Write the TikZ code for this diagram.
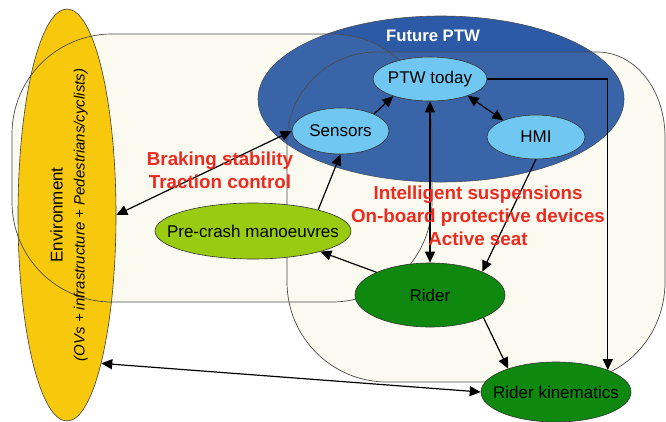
\documentclass[tikz,border=0pt]{standalone}
\usepackage{fontspec}
\setmainfont{Liberation Sans}
\usetikzlibrary{shapes.geometric,arrows.meta}
\definecolor{envyellow}{HTML}{F8C80C}
\definecolor{ptwblue}{HTML}{2C5AA6}
\definecolor{ptwinner}{HTML}{3964A8}
\definecolor{lightblue}{HTML}{70C8F2}
\definecolor{limegreen}{HTML}{99CC11}
\definecolor{darkgreen}{HTML}{0E880E}
\definecolor{redtext}{HTML}{EE2A1E}
\definecolor{beige}{HTML}{FAFAF0}
\begin{document}
\begin{tikzpicture}[x=1pt,y=-1pt,
  regionline/.style={draw=black!70, line width=0.7pt},
  oval/.style={ellipse, draw=black!80, line width=0.6pt, inner xsep=-20pt, inner ysep=0pt, font=\fontsize{17}{20}\selectfont},
  conn/.style={line width=1.2pt, -{Triangle[length=11pt,width=10pt]}},
  biconn/.style={line width=1.2pt, {Triangle[length=11pt,width=10pt]}-{Triangle[length=11pt,width=10pt]}},
  redlabel/.style={text=redtext, font=\bfseries\fontsize{18.8}{23}\selectfont, align=center}
]
\useasboundingbox (0,0) rectangle (666,421);
\fill[white] (0,0) rectangle (666,421);

% region fills
\fill[beige, rounded corners=100pt] (12,34) rectangle (432,302);
\fill[beige] (287,142) .. controls (287,92.3) and (327.3,52) .. (377,52)
  -- (597,52) .. controls (635.6,52) and (665,90) .. (665,137)
  -- (665,282) .. controls (665,337.2) and (622.2,382) .. (567,382)
  -- (387,382) .. controls (331.8,382) and (287,337.2) .. (287,282) -- cycle;

% big ellipses
\node[ellipse, draw=black!75, line width=0.6pt, fill=envyellow, minimum width=98pt, minimum height=412pt, inner sep=0pt] (env) at (67,215) {};
\node[ellipse, draw=black!70, line width=0.6pt, fill=ptwblue, minimum width=366pt, minimum height=166pt, inner sep=0pt] (future) at (441,99) {};

% lighter blue where the regions overlap the Future PTW ellipse
\begin{scope}
  \clip (441,99) ellipse [x radius=182.5pt, y radius=82.5pt];
  \fill[ptwinner, rounded corners=100pt] (12,34) rectangle (432,302);
  \fill[ptwinner] (287,142) .. controls (287,92.3) and (327.3,52) .. (377,52)
    -- (597,52) .. controls (635.6,52) and (665,90) .. (665,137)
    -- (665,282) .. controls (665,337.2) and (622.2,382) .. (567,382)
    -- (387,382) .. controls (331.8,382) and (287,337.2) .. (287,282) -- cycle;
\end{scope}

% region outlines
\draw[regionline, rounded corners=100pt] (12,34) rectangle (432,302);
\draw[regionline] (287,142) .. controls (287,92.3) and (327.3,52) .. (377,52)
  -- (597,52) .. controls (635.6,52) and (665,90) .. (665,137)
  -- (665,282) .. controls (665,337.2) and (622.2,382) .. (567,382)
  -- (387,382) .. controls (331.8,382) and (287,337.2) .. (287,282) -- cycle;

\node[text=white, font=\bfseries\fontsize{16.7}{20}\selectfont] (futurelabel) at (433,36) {Future PTW};

% nodes
\node[oval, fill=lightblue, minimum width=114pt, minimum height=44pt] (ptw) at (430,79) {PTW today};
\node[oval, fill=lightblue, minimum width=97pt, minimum height=46pt] (sensors) at (340.5,131) {Sensors};
\node[oval, fill=lightblue, minimum width=98pt, minimum height=44pt] (hmi) at (536,137) {HMI};
\node[oval, fill=limegreen, minimum width=196pt, minimum height=56pt] (precrash) at (253,231) {Pre-crash manoeuvres};
\node[oval, fill=darkgreen, minimum width=150pt, minimum height=64pt] (rider) at (430,295) {Rider};
\node[oval, fill=darkgreen, minimum width=150pt, minimum height=60pt] (rk) at (556,392) {Rider kinematics};

% connectors
\draw[biconn] (env.east) -- (sensors.west);
\draw[conn] (precrash.18) -- (sensors.south);
\draw[conn] (sensors.27) -- (ptw.205);
\draw[biconn] (ptw.336) -- (hmi.153);
\draw[biconn] (ptw.south) -- (rider.north);
\draw[conn] (hmi.south) -- (rider.24);
\draw[conn] (ptw.east) -| (rk.23);
\draw[conn] (rider.157) -- (precrash.343);
\draw[conn] (rider.-23) -- (rk.154);
\draw[biconn] (env.283) -- (rk.west);

% labels
\node[rotate=90, align=center, font=\fontsize{17}{22}\selectfont] (envlabel) at (69,215)
  {Environment\\\itshape\fontsize{15}{22}\selectfont (OVs + infrastructure + Pedestrians/cyclists)};
\node[redlabel] (braking) at (220,170) {Braking stability\\Traction control};
\node[redlabel] (intel) at (478,216) {Intelligent suspensions\\On-board protective devices\\Active seat};
\end{tikzpicture}
\end{document}
